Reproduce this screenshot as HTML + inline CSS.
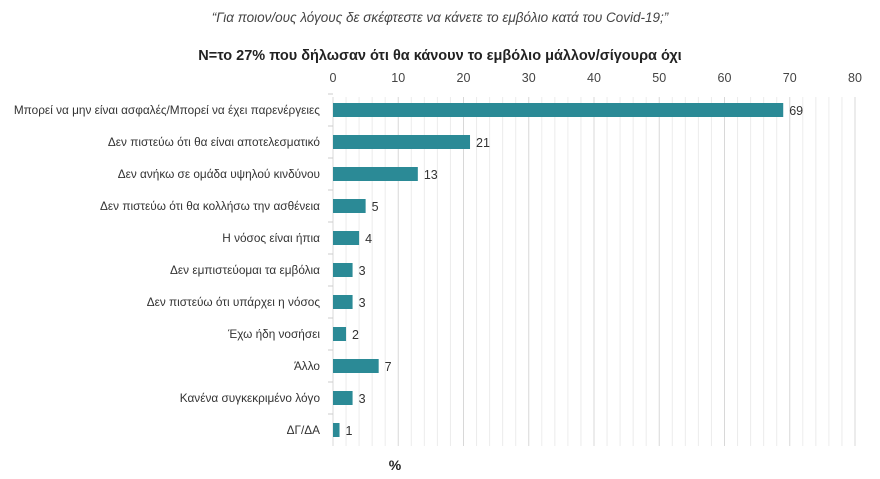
<!DOCTYPE html>
<html><head><meta charset="utf-8"><style>
body{margin:0;background:#fff;font-family:"Liberation Sans",sans-serif}
</style></head><body>
<svg id="c" width="880" height="474" xmlns="http://www.w3.org/2000/svg">
<text x="440" y="22" text-anchor="middle" font-size="13.5" font-style="italic" fill="#444">“Για ποιον/ους λόγους δε σκέφτεστε να κάνετε το εμβόλιο κατά του Covid-19;”</text>
<text x="440" y="60" text-anchor="middle" font-size="14.5" font-weight="bold" fill="#222">N=το 27% που δήλωσαν ότι θα κάνουν το εμβόλιο μάλλον/σίγουρα όχι</text>
<text x="395" y="470" text-anchor="middle" font-size="14" font-weight="bold" fill="#222">%</text>
<g id="g"></g>
</svg>
<script>
const categories=["Μπορεί να μην είναι ασφαλές/Μπορεί να έχει παρενέργειες","Δεν πιστεύω ότι θα είναι αποτελεσματικό","Δεν ανήκω σε ομάδα υψηλού κινδύνου","Δεν πιστεύω ότι θα κολλήσω την ασθένεια","Η νόσος είναι ήπια","Δεν εμπιστεύομαι τα εμβόλια","Δεν πιστεύω ότι υπάρχει η νόσος","Έχω ήδη νοσήσει","Άλλο","Κανένα συγκεκριμένο λόγο","ΔΓ/ΔΑ"];
const values=[69,21,13,5,4,3,3,2,7,3,1];
const ticks=[0,10,20,30,40,50,60,70,80];
const NS="http://www.w3.org/2000/svg";
const g=document.getElementById('g');
const x=v=>333+v*6.525;
const y=i=>110+i*32;
function el(t,a){const e=document.createElementNS(NS,t);for(const k in a)e.setAttribute(k,a[k]);g.appendChild(e);return e;}
for(let v=0;v<=80;v+=2){const e=el('line',{x1:x(v),x2:x(v),y1:97,y2:446,stroke:v%10===0?'#d8d8d8':'#ececec','stroke-width':1});

}
ticks.forEach(t=>{const e=el('text',{x:x(t),y:82,'text-anchor':'middle','font-size':12.5,fill:'#444'});e.textContent=t;

});
categories.forEach((c,i)=>{
const tk=el('line',{x1:328,x2:333,y1:y(i)-16,y2:y(i)-16,stroke:'#ccc'});


const l=el('text',{x:320,y:y(i)+4,'text-anchor':'end','font-size':11.8,fill:'#333'});l.textContent=c;


const b=el('rect',{x:x(0),y:y(i)-7,width:x(values[i])-x(0),height:14,fill:'#2b8a96'});


const v=el('text',{x:x(values[i])+6,y:y(i)+5,'font-size':12.5,fill:'#333'});v.textContent=values[i];


});
</script>
</body></html>
